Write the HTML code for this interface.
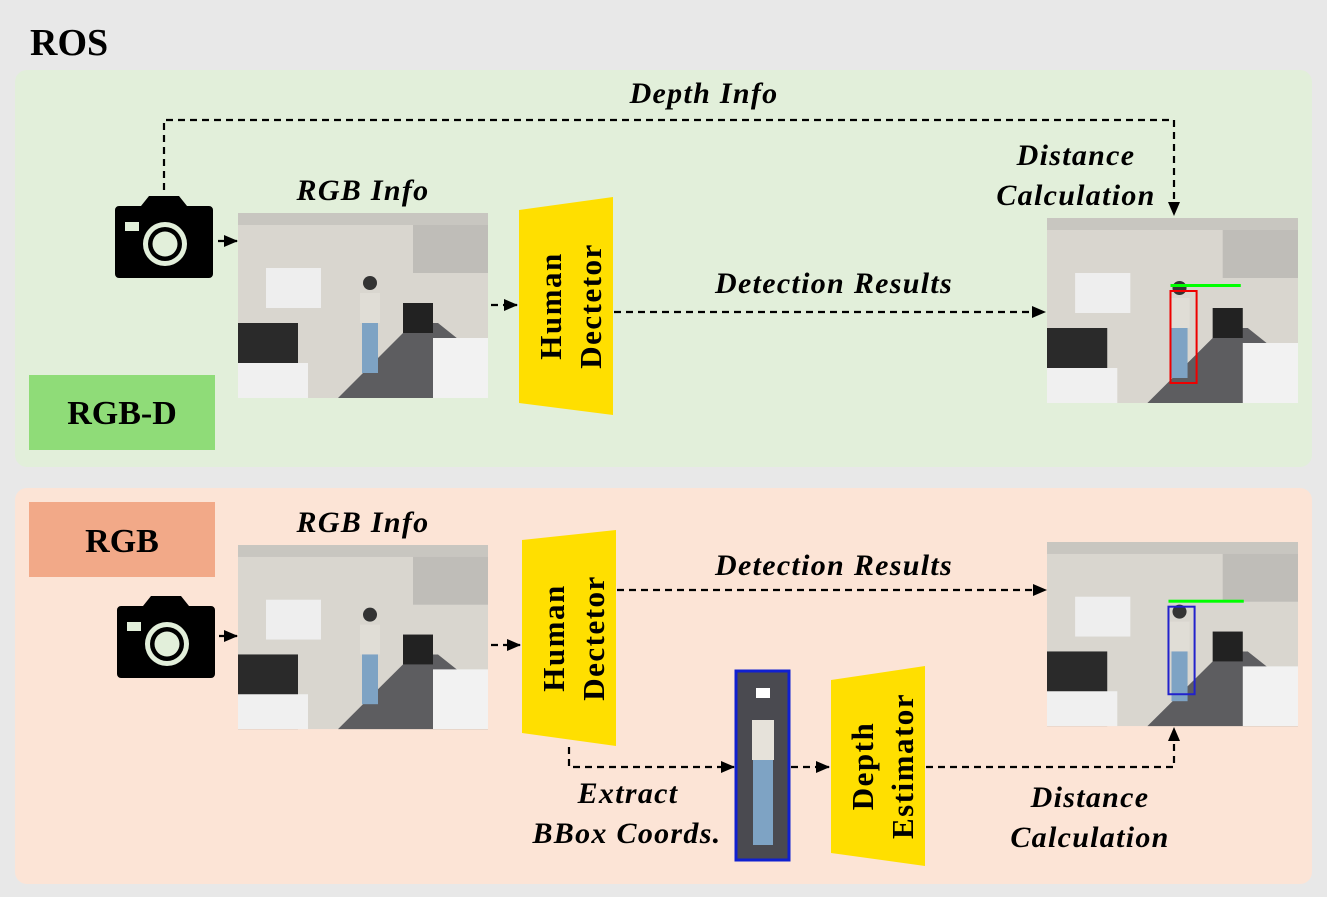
<!DOCTYPE html><html><head><style>body{margin:0;background:#e8e8e8}svg{display:block}</style></head><body>
<svg width="1327" height="897" xmlns="http://www.w3.org/2000/svg" font-family="Liberation Serif, serif" font-weight="bold">
<defs>
<marker id="a" markerWidth="14" markerHeight="12" refX="13" refY="6" orient="auto" markerUnits="userSpaceOnUse"><path d="M0,0L14,6L0,12z" fill="#000"/></marker>
<g id="cam"><path d="M0,14 a4,4 0 0 1 4,-4 h22 l8,-10 h30 l8,10 h22 a4,4 0 0 1 4,4 v64 a4,4 0 0 1 -4,4 h-90 a4,4 0 0 1 -4,-4z" fill="#000"/><rect x="10" y="26" width="14" height="9" fill="#e2efda"/><circle cx="50" cy="48" r="22" fill="#e2efda"/><circle cx="50" cy="48" r="17" fill="#000"/><circle cx="50" cy="48" r="12.5" fill="#e2efda"/></g>
<g id="ph"><rect width="250" height="185" fill="#d9d6cf"/><rect x="175" y="0" width="75" height="60" fill="#bfbdb8"/><rect x="0" y="0" width="250" height="12" fill="#c8c6c0"/><polygon points="100,185 175,110 200,110 250,150 250,185" fill="#5d5d60"/><rect x="28" y="55" width="55" height="40" fill="#eeeeee"/><rect x="0" y="110" width="60" height="75" fill="#2a2a2a"/><rect x="0" y="150" width="70" height="35" fill="#f0f0f0"/><rect x="195" y="125" width="55" height="60" fill="#f2f2f2"/><rect x="165" y="90" width="30" height="30" fill="#222"/><rect x="122" y="80" width="20" height="30" fill="#e0ddd6"/><rect x="124" y="110" width="16" height="50" fill="#7ea3c4"/><circle cx="132" cy="70" r="7" fill="#333"/></g>
</defs>
<text x="30" y="55" font-size="38">ROS</text>
<rect x="15" y="70" width="1297" height="397" rx="12" fill="#e2efda"/>
<rect x="15" y="488" width="1297" height="396" rx="12" fill="#fce4d6"/>
<rect x="29" y="375" width="186" height="75" fill="#8fdc78"/>
<text x="122" y="424" font-size="34" text-anchor="middle">RGB-D</text>
<rect x="29" y="502" width="186" height="75" fill="#f2a988"/>
<text x="122" y="552" font-size="34" text-anchor="middle">RGB</text>
<use href="#cam" x="115" y="196"/>
<use href="#cam" x="117" y="596"/>
<g transform="translate(238,213)"><use href="#ph"/></g>
<g transform="translate(1047,218) scale(1.004,1)"><use href="#ph"/><rect x="123" y="73" width="26" height="92" fill="none" stroke="#e00" stroke-width="2"/><rect x="123" y="66" width="70" height="3" fill="#0f0"/></g>
<g transform="translate(238,545) scale(1,0.995)"><use href="#ph"/></g>
<g transform="translate(1047,542) scale(1.004,0.995)"><use href="#ph"/><rect x="121" y="65" width="26" height="88" fill="none" stroke="#22c" stroke-width="2"/><rect x="121" y="58" width="75" height="3" fill="#0f0"/></g>
<rect x="736" y="671" width="53" height="189" fill="#4a4a50" stroke="#1020d0" stroke-width="3"/>
<rect x="752" y="720" width="22" height="40" fill="#e6e2da"/><rect x="753" y="760" width="20" height="85" fill="#7ea3c4"/><rect x="756" y="688" width="14" height="10" fill="#fff"/>
<polygon points="519,210 613,197 613,415 519,403" fill="#ffdf00"/>
<polygon points="522,540 616,530 616,746 522,733" fill="#ffdf00"/>
<polygon points="831,680 925,666 925,866 831,853" fill="#ffdf00"/>
<g font-size="31" letter-spacing="1.5">
<text transform="translate(561,306) rotate(-90)" text-anchor="middle">Human</text>
<text transform="translate(601,306) rotate(-90)" text-anchor="middle">Dectetor</text>
<text transform="translate(564,638) rotate(-90)" text-anchor="middle">Human</text>
<text transform="translate(604,638) rotate(-90)" text-anchor="middle">Dectetor</text>
<text transform="translate(873,766) rotate(-90)" text-anchor="middle">Depth</text>
<text transform="translate(913,766) rotate(-90)" text-anchor="middle">Estimator</text>
</g>
<g fill="none" stroke="#000" stroke-width="2.2" stroke-dasharray="7,5" marker-end="url(#a)">
<path d="M218,241H237"/><path d="M491,305H517"/><path d="M614,312H1045"/>
<path d="M164,190V120H1174V215"/>
<path d="M219,636H237"/><path d="M491,645H520"/><path d="M617,590H1046"/>
<path d="M569,747V767H734"/><path d="M791,767H829"/><path d="M926,767H1174V728"/>
</g>
<g font-size="30" font-style="italic" text-anchor="middle" letter-spacing="1.3">
<text x="704" y="103">Depth Info</text>
<text x="363" y="200">RGB Info</text>
<text x="363" y="532">RGB Info</text>
<text x="834" y="293">Detection Results</text>
<text x="834" y="575">Detection Results</text>
<text x="1076" y="165">Distance</text><text x="1076" y="205">Calculation</text>
<text x="1090" y="807">Distance</text><text x="1090" y="847">Calculation</text>
<text x="628" y="803">Extract</text><text x="627" y="843">BBox Coords.</text>
</g>
</svg></body></html>
